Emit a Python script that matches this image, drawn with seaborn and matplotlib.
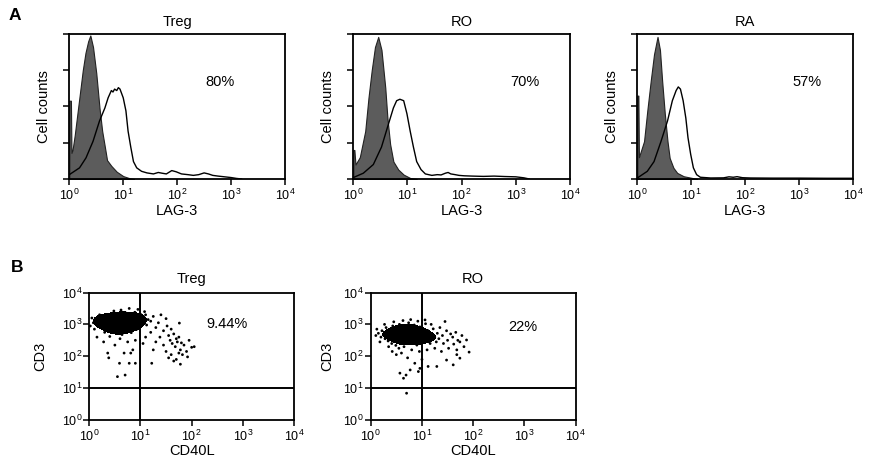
import numpy as np
import matplotlib
matplotlib.use("Agg")
import matplotlib.pyplot as plt
from matplotlib.colors import ListedColormap
import seaborn as sns

sns.set_style("ticks")
plt.rcParams['font.family'] = ['Liberation Sans', 'DejaVu Sans']
plt.rcParams['mathtext.fontset'] = 'custom'
plt.rcParams['mathtext.rm'] = 'Liberation Sans'
plt.rcParams['mathtext.it'] = 'Liberation Sans'
for key in ['text.color', 'axes.labelcolor', 'xtick.color', 'ytick.color']:
    plt.rcParams[key] = 'black'

# ---- panel A: LAG-3 histograms (x in log10 decades, y as fraction of peak) ----
treg_iso_x = [0.0, 0.03, 0.04, 0.06, 0.10, 0.15, 0.20, 0.25, 0.30, 0.35, 0.39, 0.44,
              0.50, 0.56, 0.61, 0.66, 0.70, 0.78, 0.88, 1.00, 1.12, 1.20]
treg_iso_y = [0.54, 0.54, 0.18, 0.20, 0.30, 0.45, 0.60, 0.75, 0.87, 0.95, 0.99, 0.91,
              0.73, 0.49, 0.33, 0.22, 0.13, 0.09, 0.05, 0.02, 0.005, 0.0]
treg_lag_x = [0.0, 0.19, 0.31, 0.44, 0.56, 0.66, 0.72, 0.78, 0.81, 0.84, 0.88, 0.91, 0.94,
              1.00, 1.05, 1.09, 1.14, 1.19, 1.25, 1.34, 1.44, 1.56, 1.65, 1.72, 1.80,
              1.90, 1.98, 2.08, 2.20, 2.30, 2.40, 2.50, 2.58, 2.66, 2.76, 2.88, 3.00,
              3.10, 3.20]
treg_lag_y = [0.03, 0.077, 0.146, 0.26, 0.40, 0.49, 0.56, 0.61, 0.60, 0.62, 0.61, 0.63, 0.62,
              0.56, 0.47, 0.33, 0.22, 0.12, 0.077, 0.053, 0.042, 0.035, 0.045, 0.04, 0.035,
              0.058, 0.05, 0.035, 0.03, 0.025, 0.03, 0.042, 0.035, 0.025, 0.02, 0.015, 0.01,
              0.004, 0.0]

ro_iso_x = [0.0, 0.02, 0.04, 0.12, 0.22, 0.28, 0.34, 0.40, 0.46, 0.52, 0.59, 0.63,
            0.68, 0.74, 0.83, 0.93, 1.05, 1.17]
ro_iso_y = [0.20, 0.20, 0.10, 0.15, 0.33, 0.56, 0.75, 0.91, 0.98, 0.89, 0.63, 0.42,
            0.24, 0.12, 0.065, 0.03, 0.007, 0.0]
ro_lag_x = [0.0, 0.185, 0.37, 0.52, 0.65, 0.74, 0.80, 0.86, 0.93, 0.99, 1.05, 1.11,
            1.17, 1.25, 1.33, 1.45, 1.55, 1.62, 1.70, 1.75, 1.80, 1.88, 1.95, 2.05,
            2.20, 2.40, 2.60, 2.80, 3.00, 3.15, 3.25]
ro_lag_y = [0.01, 0.04, 0.10, 0.22, 0.38, 0.49, 0.54, 0.55, 0.54, 0.45, 0.33, 0.22,
            0.12, 0.065, 0.035, 0.025, 0.03, 0.028, 0.04, 0.045, 0.035, 0.03, 0.025, 0.022,
            0.02, 0.018, 0.02, 0.017, 0.015, 0.008, 0.0]

ra_iso_x = [0.0, 0.02, 0.03, 0.125, 0.185, 0.25, 0.31, 0.375, 0.42, 0.46, 0.51, 0.56,
            0.60, 0.67, 0.74, 0.86, 1.02, 1.11]
ra_iso_y = [0.575, 0.575, 0.15, 0.26, 0.47, 0.68, 0.86, 0.98, 0.89, 0.68, 0.45, 0.26,
            0.145, 0.077, 0.042, 0.019, 0.007, 0.0]
ra_lag_x = [0.0, 0.185, 0.31, 0.44, 0.56, 0.65, 0.72, 0.76, 0.80, 0.85, 0.90, 0.94,
            0.99, 1.04, 1.10, 1.17, 1.36, 1.60, 1.70, 1.78, 1.85, 1.95, 2.10, 2.50,
            3.00, 3.50, 4.00]
ra_lag_y = [0.007, 0.053, 0.12, 0.26, 0.40, 0.54, 0.61, 0.635, 0.62, 0.54, 0.42, 0.285,
            0.17, 0.077, 0.03, 0.012, 0.007, 0.008, 0.015, 0.012, 0.016, 0.009, 0.007, 0.006,
            0.006, 0.005, 0.005]

lag_pct = ['80%', '70%', '57%']

# ---- panel B: CD40L vs CD3 dots (log10 decades) ----
treg_dots = [
    (0.08, 3.05), (0.12, 3.12), (0.15, 2.98), (0.18, 3.18), (0.20, 3.08), (0.22, 2.92),
    (0.25, 3.22), (0.27, 3.02), (0.29, 3.14), (0.31, 2.88), (0.33, 3.26), (0.34, 2.97),
    (0.36, 3.10), (0.38, 3.19), (0.39, 2.83), (0.41, 3.04), (0.42, 2.93), (0.44, 3.30),
    (0.45, 3.15), (0.46, 2.78), (0.48, 3.07), (0.49, 2.99), (0.50, 3.22), (0.51, 2.88),
    (0.53, 3.12), (0.54, 2.72), (0.55, 3.34), (0.56, 3.01), (0.57, 2.94), (0.58, 3.18),
    (0.60, 2.84), (0.61, 3.08), (0.62, 3.27), (0.63, 2.97), (0.64, 2.68), (0.65, 3.14),
    (0.66, 2.90), (0.68, 3.22), (0.69, 3.03), (0.70, 2.79), (0.71, 3.36), (0.72, 3.10),
    (0.73, 2.95), (0.75, 3.20), (0.76, 2.86), (0.77, 3.05), (0.78, 3.30), (0.80, 2.99),
    (0.81, 3.15), (0.82, 2.74), (0.84, 3.25), (0.85, 3.08), (0.86, 2.92), (0.88, 3.18),
    (0.89, 3.38), (0.90, 3.02), (0.92, 3.28), (0.93, 2.85), (0.95, 3.12), (0.97, 3.22),
    (0.98, 2.96), (1.00, 3.32), (1.02, 3.08), (1.05, 3.20), (1.08, 3.40),
    (0.35, 3.05), (0.40, 3.16), (0.47, 3.20), (0.52, 3.00), (0.58, 3.08), (0.62, 2.90),
    (0.67, 3.06), (0.74, 3.02), (0.79, 3.12), (0.83, 3.00), (0.45, 2.90), (0.55, 2.80),
    (0.66, 2.98), (0.60, 3.20), (0.70, 3.16), (0.50, 3.10), (0.43, 2.85), (0.30, 3.00),
    (0.24, 3.10), (0.87, 3.10),
    (0.05, 3.20), (0.02, 2.95), (0.10, 2.85), (0.20, 3.30), (0.30, 2.75), (0.40, 2.62),
    (0.48, 3.42), (0.62, 3.45), (0.78, 3.50), (0.95, 3.47), (1.10, 3.30), (1.15, 3.15),
    (1.12, 2.98), (1.20, 3.10), (1.25, 3.25), (1.30, 2.90), (1.35, 3.05), (1.40, 3.30),
    (1.45, 2.80), (1.50, 3.18), (1.52, 2.95), (1.55, 2.65), (1.58, 2.50), (1.60, 2.85),
    (1.62, 2.40), (1.65, 2.70), (1.68, 2.30), (1.70, 2.55), (1.72, 2.45), (1.75, 2.60),
    (1.78, 2.20), (1.80, 2.42), (1.82, 2.05), (1.85, 2.35), (1.76, 3.04), (1.90, 2.15),
    (1.92, 1.98), (1.95, 2.50), (2.00, 2.28), (2.05, 2.30), (1.30, 2.45), (1.25, 2.20),
    (1.38, 2.60), (1.45, 2.35), (1.50, 2.15), (1.55, 1.95), (1.60, 2.05), (1.65, 1.85),
    (1.70, 1.90), (1.75, 2.10), (1.78, 1.75), (1.22, 1.78), (1.20, 2.75), (1.10, 2.60),
    (1.05, 2.40), (0.90, 2.50), (0.75, 2.45), (0.60, 2.55), (0.50, 2.35), (0.36, 2.10),
    (0.38, 1.95), (0.59, 1.78), (0.55, 1.36), (0.70, 1.41), (0.78, 1.78), (0.81, 2.10),
    (0.85, 2.20), (0.90, 1.78), (0.68, 2.10), (0.28, 2.45), (0.15, 2.60),
]

ro_dots = [
    (0.15, 2.72), (0.20, 2.60), (0.22, 2.80), (0.25, 2.68), (0.28, 2.55), (0.30, 2.90),
    (0.32, 2.75), (0.34, 2.48), (0.36, 2.62), (0.38, 2.85), (0.40, 2.70), (0.41, 2.40),
    (0.43, 2.95), (0.44, 2.56), (0.46, 2.78), (0.47, 2.66), (0.49, 2.34), (0.50, 2.88),
    (0.52, 2.60), (0.53, 2.72), (0.55, 2.50), (0.56, 3.00), (0.57, 2.82), (0.58, 2.44),
    (0.60, 2.67), (0.61, 2.90), (0.62, 2.55), (0.64, 2.76), (0.65, 2.30), (0.66, 2.62),
    (0.67, 2.95), (0.69, 2.48), (0.70, 2.70), (0.71, 2.84), (0.72, 2.58), (0.74, 3.05),
    (0.75, 2.40), (0.76, 2.66), (0.77, 2.78), (0.79, 2.52), (0.80, 2.90), (0.81, 2.62),
    (0.83, 2.73), (0.84, 2.44), (0.85, 2.98), (0.86, 2.57), (0.88, 2.68), (0.89, 2.82),
    (0.90, 2.35), (0.92, 2.62), (0.93, 2.76), (0.94, 2.50), (0.96, 2.92), (0.97, 2.66),
    (0.98, 2.42), (1.00, 2.72), (1.01, 2.56), (1.03, 2.85), (1.04, 2.64), (1.06, 2.47),
    (1.07, 3.02), (1.09, 2.70), (1.10, 2.55), (1.12, 2.80), (1.14, 2.62), (1.16, 2.40),
    (1.18, 2.70), (1.20, 2.52), (1.22, 2.86), (1.25, 2.60), (1.28, 2.45), (1.30, 2.72),
    (1.33, 2.55),
    (0.62, 2.70), (0.68, 2.60), (0.73, 2.72), (0.78, 2.60), (0.82, 2.68), (0.87, 2.62),
    (0.70, 2.55), (0.80, 2.75), (0.90, 2.70), (0.75, 2.85), (0.65, 2.80), (0.95, 2.58),
    (0.85, 2.80), (0.58, 2.60), (0.72, 2.48), (0.88, 2.50),
    (0.12, 2.85), (0.10, 2.65), (0.18, 2.45), (0.27, 3.00), (0.35, 2.30), (0.45, 3.08),
    (0.55, 2.25), (0.63, 3.12), (0.78, 3.15), (0.92, 3.10), (1.06, 3.14), (1.18, 3.00),
    (1.35, 2.90), (1.40, 2.65), (1.42, 2.40), (1.45, 3.09), (1.48, 2.80), (1.50, 2.50),
    (1.52, 2.25), (1.56, 2.70), (1.60, 2.60), (1.62, 2.38), (1.66, 2.75), (1.68, 2.20),
    (1.70, 2.50), (1.74, 2.45), (1.78, 2.65), (1.82, 2.30), (1.87, 2.51), (1.92, 2.13),
    (1.38, 2.15), (1.25, 2.25), (1.10, 2.20), (0.95, 2.15), (0.80, 2.20), (0.60, 2.10),
    (0.72, 1.95), (0.86, 1.78), (0.93, 1.52), (0.96, 1.62), (1.12, 1.68), (1.29, 1.68),
    (1.48, 1.88), (1.61, 1.73), (1.74, 1.94), (1.68, 2.05), (0.57, 1.47), (0.69, 1.41),
    (0.64, 1.31), (0.70, 0.84), (0.77, 1.57), (1.00, 1.90), (0.50, 2.05), (0.42, 2.15),
]
cd40l_pct = ['9.44%', '22%']

W, H = 874, 466
TXT = 10.5
fig = plt.figure(figsize=(W / 100, H / 100), dpi=100)


def box(l, r, t, b):
    return fig.add_axes([l / W, 1 - b / H, (r - l) / W, (b - t) / H])


def frame(ax):
    for s in ax.spines.values():
        s.set_visible(True)
        s.set_color('black')
        s.set_linewidth(1.3)
    ax.tick_params(direction='out', length=4, width=1.1, labelsize=9, pad=2.5,
                   colors='black')
    ax.minorticks_off()


def hist_panel(ax, title, pct, iso_x, iso_y, lag_x, lag_y, px):
    iso_v = np.power(10.0, iso_x)
    ax.fill_between(iso_v, iso_y, color='#5c5c5c', edgecolor='#222222', lw=0.8)
    sns.lineplot(x=np.power(10.0, lag_x), y=lag_y, ax=ax, color='black', lw=1.0)
    ax.set_xscale('log')
    ax.set_xlim(1, 1e4)
    ax.set_ylim(0, 1.0)
    ax.set_xticks([1, 10, 100, 1000, 10000])
    ax.set_yticks([0, 0.25, 0.5, 0.75, 1.0])
    ax.set_yticklabels([])
    frame(ax)
    ax.set_title(title, fontsize=TXT, pad=5.5)
    ax.set_xlabel('LAG-3', fontsize=TXT)
    ax.set_ylabel('Cell counts', fontsize=TXT)
    ax.xaxis.set_label_coords(0.5, -0.175)
    ax.yaxis.set_label_coords(-0.086, 0.5)
    ax.text(px, 0.67, pct, transform=ax.transAxes, ha='center', va='center',
            fontsize=TXT)


def dot_panel(ax, title, pct, dots, pct_pos, ylab_x):
    xs = np.power(10.0, [d[0] for d in dots])
    ys = np.power(10.0, [d[1] for d in dots])
    sns.kdeplot(x=xs, y=ys, ax=ax, fill=True, levels=[0.56, 1.0],
                cmap=ListedColormap(['black']), log_scale=True, bw_adjust=0.7)
    sns.scatterplot(x=xs, y=ys, ax=ax, s=4, color='black', edgecolor='none')
    ax.set_xscale('log')
    ax.set_yscale('log')
    ax.set_xlim(1, 1e4)
    ax.set_ylim(1, 1e4)
    ax.axvline(10, color='black', lw=1.4)
    ax.axhline(10, color='black', lw=1.4)
    ax.set_xticks([1, 10, 100, 1000, 10000])
    ax.set_yticks([1, 10, 100, 1000, 10000])
    frame(ax)
    ax.tick_params(axis='y', pad=1)
    ax.set_title(title, fontsize=TXT, pad=7)
    ax.set_xlabel('CD40L', fontsize=TXT)
    ax.set_ylabel('CD3', fontsize=TXT)
    ax.xaxis.set_label_coords(0.5, -0.19)
    ax.yaxis.set_label_coords(ylab_x, 0.5)
    ax.text(pct_pos[0], pct_pos[1], pct, ha='center', va='center', fontsize=TXT)


ax1 = box(69.3, 285, 34, 179)
ax2 = box(353.3, 570, 34, 179)
ax3 = box(637.3, 853, 34, 179)
hist_panel(ax1, 'Treg', lag_pct[0], treg_iso_x, treg_iso_y, treg_lag_x, treg_lag_y, 0.70)
hist_panel(ax2, 'RO', lag_pct[1], ro_iso_x, ro_iso_y, ro_lag_x, ro_lag_y, 0.79)
hist_panel(ax3, 'RA', lag_pct[2], ra_iso_x, ra_iso_y, ra_lag_x, ra_lag_y, 0.785)

ax4 = box(89.3, 294, 292.5, 420)
ax5 = box(370.7, 575.7, 292.5, 420)
dot_panel(ax4, 'Treg', cd40l_pct[0], treg_dots, (10 ** 2.69, 10 ** 3.0), -0.205)
dot_panel(ax5, 'RO', cd40l_pct[1], ro_dots, (10 ** 2.97, 10 ** 2.93), -0.178)

fig.text(9 / W, 1 - 16 / H, 'A', fontsize=12.5, fontweight='bold', va='center')
fig.text(11 / W, 1 - 268 / H, 'B', fontsize=12.5, fontweight='bold', va='center')

fig.savefig('out.png', dpi=100)
